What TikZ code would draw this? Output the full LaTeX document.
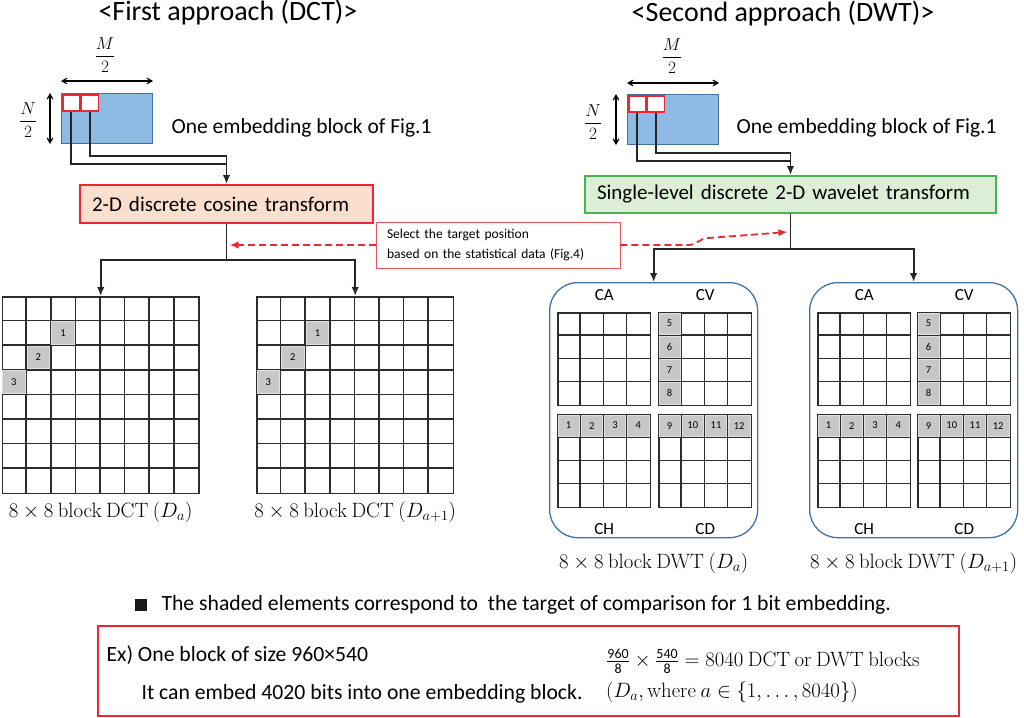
\documentclass[tikz,border=0pt]{standalone}
\usepackage{amsmath}
\usepackage[no-math]{fontspec}
\setmainfont{Carlito}
\usetikzlibrary{arrows,arrows.meta,positioning}
\definecolor{blockblue}{RGB}{142,187,228}
\definecolor{blockedge}{RGB}{68,114,160}
\definecolor{dctfill}{RGB}{250,223,207}
\definecolor{dwtfill}{RGB}{220,238,214}
\definecolor{dwtedge}{RGB}{70,180,80}
\definecolor{boxred}{RGB}{235,40,50}
\definecolor{gridline}{RGB}{45,45,45}

\begin{document}
\begin{tikzpicture}[
    x=1pt, y=-1pt,
    >={Latex[length=9pt,width=7.5pt]},
    font=\fontsize{20}{24}\selectfont,
    heading/.style={font=\fontsize{28}{32}\selectfont},
    caption/.style={anchor=west, font=\fontsize{21.5}{25}\selectfont},
    embed/.style={
		rectangle,
		draw=blockedge,
		fill=blockblue,
		line width=1pt,
		minimum width=91pt,
		minimum height=50pt,
		inner sep=0pt,
		anchor=north west
	},
	pick/.style={
		rectangle,
		draw=boxred,
		fill=white,
		line width=1.5pt,
		minimum width=17pt,
		minimum height=16pt,
		inner sep=0pt,
		anchor=north west
	},
	transbox/.style={
		rectangle,
		line width=2pt,
		inner xsep=12pt,
		minimum height=38pt,
		align=left,
		anchor=north west,
		font=\fontsize{21}{25}\selectfont
	},
	cellgrid/.style={
		rectangle,
		draw=gridline,
		line width=1.6pt,
		inner sep=0pt,
		anchor=north west
	},
	gridstroke/.style={draw=gridline, line width=1.6pt},
	shadecell/.style={
		rectangle,
		fill=black!22,
		draw=black!12,
		line width=0.8pt,
		minimum size=#1,
		inner sep=0pt,
		font=\fontsize{10.5}{12}\selectfont
	},
	shadecell/.default=22.6pt,
	wavelet/.style={
		rectangle,
		rounded corners=28pt,
		draw=blockedge,
		line width=1.3pt,
		minimum width=208pt,
		minimum height=255pt,
		anchor=north west
	},
	sublabel/.style={inner sep=0pt, font=\fontsize{17}{20}\selectfont},
	link/.style={draw=black!85, line width=1.8pt},
	dimline/.style={angle 60-angle 60, line width=1.2pt},
	cue/.style={draw=boxred, dash pattern=on 7pt off 4pt, line width=1.8pt, ->},
	notebox/.style={
		rectangle,
		draw=boxred!80,
		fill=white,
		line width=0.8pt,
		align=left,
		font=\fontsize{13.5}{20}\selectfont,
		minimum height=46pt,
		inner xsep=11pt,
		text width=222pt
	},
	remarktext/.style={anchor=west, font=\fontsize{21.7}{25}\selectfont}
  ]
  \useasboundingbox (0,0) rectangle (1024,717);

  % headings
  \node [heading] (titleL) at (228,13) {<First approach (DCT)>};
  \node [heading] (titleR) at (783,14) {<Second approach (DWT)>};

  % embedding blocks
  \node [embed] (blockL) at (61,93) {};
  \node [pick] (sqL1) at (62,94) {};
  \node [pick] (sqL2) at (sqL1.north east) {};
  \node [font=\fontsize{18}{22}\selectfont] (halfML) at (105,55) {$\dfrac{M}{2}$};
  \node [font=\fontsize{18}{22}\selectfont] (halfNL) at (28,120) {$\dfrac{N}{2}$};
  \draw [dimline] ([yshift=12pt]blockL.north west) -- ([yshift=12pt]blockL.north east);
  \draw [dimline] ([xshift=-11pt]blockL.north west) -- ([xshift=-11pt]blockL.south west);
  \node [caption] (captionL) at (168,128) {One embedding block of Fig.1};

  \node [embed] (blockR) at (627,94) {};
  \node [pick] (sqR1) at (628,95) {};
  \node [pick] (sqR2) at (sqR1.north east) {};
  \node [font=\fontsize{18}{22}\selectfont] (halfMR) at (672,56) {$\dfrac{M}{2}$};
  \node [font=\fontsize{18}{22}\selectfont] (halfNR) at (593,122) {$\dfrac{N}{2}$};
  \draw [dimline] ([yshift=11pt]blockR.north west) -- ([yshift=11pt]blockR.north east);
  \draw [dimline] ([xshift=-11pt]blockR.north west) -- ([xshift=-11pt]blockR.south west);
  \node [caption] (captionR) at (733,128) {One embedding block of Fig.1};

  % transforms
  \node [transbox, draw=boxred, fill=dctfill, text width=269pt] (dct) at (79,184) {2-D discrete cosine transform};
  \node [transbox, draw=dwtedge, fill=dwtfill, minimum height=37pt, text width=387pt] (dwt) at (584,175) {Single-level discrete 2-D wavelet transform};

  \draw [link] (sqL1.south) |- ([yshift=20pt]dct.north);
  \draw [link,->] (sqL2.south) |- ([yshift=28pt]dct.north) -- (dct.north);
  \draw [link] (sqR1.south) |- ([yshift=14pt]dwt.north);
  \draw [link,->] (sqR2.south) |- ([yshift=22pt]dwt.north) -- (dwt.north);

  % 8x8 DCT blocks
  \node [cellgrid, minimum size=196.8pt] (dctA) at (1.5,296) {};
  \node [cellgrid, minimum size=196.8pt] (dctB) at (256,296) {};
  \foreach \g in {dctA,dctB} {
    \foreach \i in {1,...,7} {
      \draw [gridstroke] ([xshift=\i*24.6pt]\g.north west) -- ([xshift=\i*24.6pt]\g.south west);
      \draw [gridstroke] ([yshift=-\i*24.6pt]\g.north west) -- ([yshift=-\i*24.6pt]\g.north east);
    }
    \node [shadecell] (\g-1) at ([xshift=61.5pt,yshift=-36.9pt]\g.north west) {1};
    \node [shadecell] (\g-2) at ([xshift=36.9pt,yshift=-61.5pt]\g.north west) {2};
    \node [shadecell] (\g-3) at ([xshift=12.3pt,yshift=-86.1pt]\g.north west) {3};
  }
  \node [inner sep=0pt, below=7pt of dctA] (labA) {$8\times8\ \mathrm{block\ DCT}\ (D_a)$};
  \node [inner sep=0pt, below=7pt of dctB] (labB) {$8\times8\ \mathrm{block\ DCT}\ (D_{a+1})$};

  \coordinate (dctsplit) at ([yshift=-36pt]dct.south);
  \draw [link] (dct.south) -- (dctsplit);
  \draw [link,->] (dctsplit) -| (dctA.north);
  \draw [link,->] (dctsplit) -| (dctB.north);

  % 8x8 DWT blocks
  \node [wavelet] (dwtL) at (549,282) {};
  \node [wavelet] (dwtR) at (809,282) {};
  \node [cellgrid, minimum size=92.8pt] (caL) at (557,312) {};
  \node [cellgrid, minimum size=92.8pt] (cvL) at (658,312) {};
  \node [cellgrid, minimum size=92.8pt] (chL) at (557,414) {};
  \node [cellgrid, minimum size=92.8pt] (cdL) at (658,414) {};
  \node [cellgrid, minimum size=92.8pt] (caR) at (817,312) {};
  \node [cellgrid, minimum size=92.8pt] (cvR) at (917,312) {};
  \node [cellgrid, minimum size=92.8pt] (chR) at (817,414) {};
  \node [cellgrid, minimum size=92.8pt] (cdR) at (917,414) {};
  \foreach \g in {caL,cvL,chL,cdL,caR,cvR,chR,cdR} {
    \foreach \i in {1,2,3} {
      \draw [gridstroke] ([xshift=\i*23.2pt]\g.north west) -- ([xshift=\i*23.2pt]\g.south west);
      \draw [gridstroke] ([yshift=-\i*23.2pt]\g.north west) -- ([yshift=-\i*23.2pt]\g.north east);
    }
  }
  \foreach \g in {L,R} {
    \foreach \n [count=\r from 0] in {5,...,8}
      \node [shadecell=21.4pt] (cv\g-\n) at ([xshift=11.6pt,yshift={-(\r*23.2+11.6)*1pt}]cv\g.north west) {\n};
    \foreach \n [count=\c from 0] in {1,...,4}
      \node [shadecell=21.4pt] (ch\g-\n) at ([xshift={(\c*23.2+11.6)*1pt},yshift=-11.6pt]ch\g.north west) {\n};
    \foreach \n [count=\c from 0] in {9,...,12}
      \node [shadecell=21.4pt] (cd\g-\n) at ([xshift={(\c*23.2+11.6)*1pt},yshift=-11.6pt]cd\g.north west) {\n};
    \node [sublabel, above=11pt of ca\g] (labca\g) {CA};
    \node [sublabel, above=11pt of cv\g] (labcv\g) {CV};
    \node [sublabel, below=14.5pt of ch\g] (labch\g) {CH};
    \node [sublabel, below=14.5pt of cd\g] (labcd\g) {CD};
  }
  \node [inner sep=0pt, below=14pt of dwtL] (labL) {$8\times8\ \mathrm{block\ DWT}\ (D_a)$};
  \node [inner sep=0pt, below=14pt of dwtR] (labR) {$8\times8\ \mathrm{block\ DWT}\ (D_{a+1})$};

  \coordinate (dwtsplit) at ([yshift=-35pt]dwt.south);
  \draw [link] (dwt.south) -- (dwtsplit);
  \draw [link,->] (dwtsplit) -| (dwtL.north);
  \draw [link,->] (dwtsplit) -| (dwtR.north);

  % selection note
  \node [notebox] (hint) at (498,245) {Select the target position\\based on the statistical data (Fig.4)};
  \coordinate (hintL) at (dctsplit |- hint.west);
  \coordinate (hintR) at ([yshift=-18pt]dwt.south);
  \draw [cue] (hint.west) -- ([xshift=3pt]hintL);
  \draw [cue] (hint.east) -- ++(68,0) to[out=0,in=180] ++(20,-7) -- ([xshift=-3pt]hintR);

  % remarks
  \node [fill=black!90, minimum size=12pt, inner sep=0pt] (bullet) at (141,605) {};
  \node [remarktext] (remark) at (158,605) {The shaded elements correspond to\ \ the target of comparison for 1 bit embedding.};
  \node [rectangle, draw=boxred, line width=1.6pt, minimum width=861pt, minimum height=90pt, anchor=north west] (example) at (97,625) {};
  \node [remarktext] (exline) at (103,655) {Ex) One block of size 960×540};
  \node [remarktext] (embedline) at (138,694) {It can embed 4020 bits into one embedding block.};
  \node [anchor=west, inner sep=0pt] (countline) at (606,661) {$\frac{\mbox{\fontsize{14}{14}\selectfont 960}}{\mbox{\fontsize{14}{14}\selectfont 8}}\times\frac{\mbox{\fontsize{14}{14}\selectfont 540}}{\mbox{\fontsize{14}{14}\selectfont 8}}=8040\ \mathrm{DCT\ or\ DWT\ blocks}$};
  \node [anchor=west, inner sep=0pt] (rangeline) at (606,692) {$(D_a,\mathrm{where}\ a\in\{1,\dots,8040\})$};

\end{tikzpicture}
\end{document}
